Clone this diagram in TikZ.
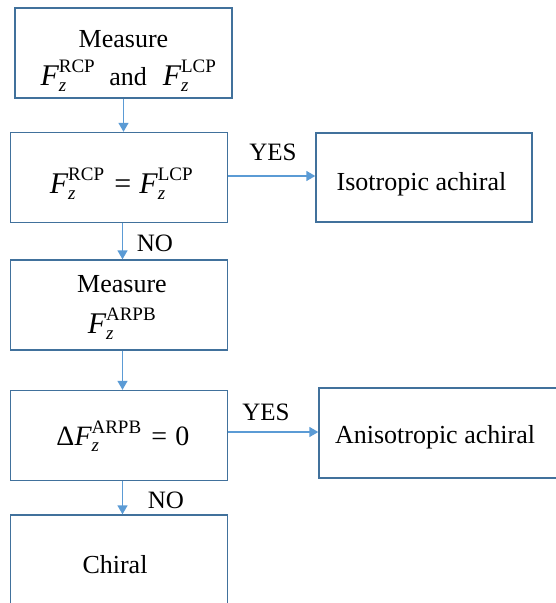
\documentclass[tikz,border=0pt]{standalone}
\usepackage{amsmath}
\usepackage{fontspec}
\setmainfont{Liberation Serif}
\usetikzlibrary{arrows.meta}
\DeclareMathSizes{30}{30}{19}{14}
\DeclareMathSizes{28}{28}{19}{14}
\definecolor{boxc}{HTML}{41719C}
\definecolor{arrc}{HTML}{5B9BD5}
\newcommand{\Fz}[1]{\text{\itshape F}_{\text{\itshape z}}^{\text{#1}}}
\newcommand{\mathfont}{\fontsize{30}{36}\selectfont}
\newcommand{\eqsign}{\mskip 2mu\mathrel{\text{=}}\mskip 1mu}
\begin{document}
\begin{tikzpicture}[x=1pt,y=-1pt,
  flowbox/.style={draw=boxc, line width=1.4pt, inner sep=0pt,
    minimum width=217pt, minimum height=90pt},
  txt/.style={anchor=base, inner sep=0pt, font=\fontsize{26}{30}\selectfont},
  mtxt/.style={anchor=base, inner sep=0pt, font=\mathfont},
  arr/.style={draw=arrc, line width=1.5pt, -{Triangle[length=9pt,width=10pt]}},
  lbl/.style={anchor=base, font=\fontsize{25}{28}\selectfont, inner sep=0pt}]
\useasboundingbox (0,0) rectangle (556,603);
% boxes
\node[flowbox] (b1) at (123.5,53) {};
\node[flowbox] (b2) at (119,177.5) {};
\node[flowbox, minimum width=216pt, minimum height=89pt] (iso) at (424,177.5) {};
\node[flowbox] (b3) at (119,305) {};
\node[flowbox] (b4) at (119,435.5) {};
\node[flowbox, minimum width=250pt] (aniso) at (444,433) {};
\node[flowbox, minimum height=100pt] (b5) at (119,565) {};
% texts
\node[txt] (t1a) at (123.5,47) {Measure};
\node[txt] (t1b) at (128.5,85) {\mathfont$\Fz{RCP}$\hspace{14pt}{\fontsize{26}{30}\selectfont and}\hspace{16pt}$\Fz{LCP}$};
\node[mtxt] (t2) at (121.5,193) {$\Fz{RCP}\eqsign\Fz{LCP}$};
\node[txt] (tiso) at (421.5,190) {Isotropic achiral};
\node[txt] (t3a) at (122,292) {Measure};
\node[mtxt] (t3b) at (122,333) {$\Fz{ARPB}$};
\node[mtxt, font=\fontsize{28}{34}\selectfont] (t4) at (123,445) {$\text{Δ}\Fz{ARPB}\eqsign\text{0}$};
\node[txt] (taniso) at (435,443) {Anisotropic achiral};
\node[txt] (t5) at (115,573) {Chiral};
% labels
\node[lbl] (yes1) at (273,160) {YES};
\node[lbl] (no1) at (155,251) {NO};
\node[lbl] (yes2) at (266,420) {YES};
\node[lbl] (no2) at (166,508) {NO};
% connectors
\draw[arr] (b1.south) -- (b1.south |- b2.north);
\draw[arr] ([xshift=3.5pt]b2.south) -- ([xshift=3.5pt]b3.north);
\draw[arr] ([xshift=3.5pt]b3.south) -- ([xshift=3.5pt]b4.north);
\draw[arr] ([xshift=3.5pt]b4.south) -- ([xshift=3.5pt]b5.north);
\draw[arr] ([yshift=1.5pt]b2.east) -- ([yshift=1.5pt]b2.east -| iso.west);
\draw[arr] ([yshift=3.5pt]b4.east) -- ([yshift=3.5pt]b4.east -| aniso.west);
\end{tikzpicture}
\end{document}
